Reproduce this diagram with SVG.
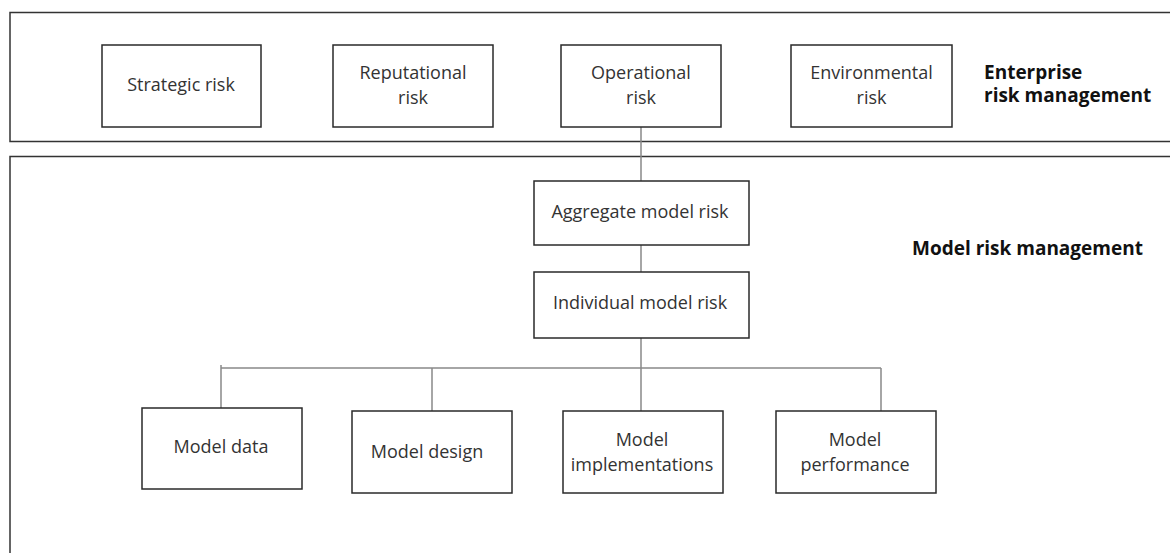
<svg xmlns="http://www.w3.org/2000/svg" width="1170" height="553" viewBox="0 0 1170 553">
<style>
.frame{fill:none;stroke:#333;stroke-width:1.5}
.box{fill:#fff;stroke:#2a2a2a;stroke-width:1.5}
.t{font-family:"Open Sans","Noto Sans",sans-serif;font-size:18px;fill:#333;text-anchor:middle}
.h{font-family:"Open Sans","Noto Sans",sans-serif;font-size:19px;font-weight:bold;fill:#111}
.c{fill:none;stroke:#888;stroke-width:1.5}
</style>
<rect width="1170" height="553" fill="#fff"/>
<g id="enterprise-frame">
<rect class="frame" x="10" y="12.5" width="1175" height="129"/>
<text class="h" x="984" y="79">Enterprise</text>
<text class="h" x="984" y="102">risk management</text>
</g>
<g id="model-frame">
<rect class="frame" x="10" y="156.5" width="1175" height="420"/>
<text class="h" x="912" y="255">Model risk management</text>
</g>
<g id="connectors">
<line class="c" x1="641" y1="127" x2="641" y2="181"/>
<line class="c" x1="641" y1="245" x2="641" y2="272"/>
<line class="c" x1="641" y1="338" x2="641" y2="411"/>
<line class="c" x1="221" y1="368" x2="881" y2="368"/>
<line class="c" x1="221" y1="365" x2="221" y2="408"/>
<line class="c" x1="432" y1="368" x2="432" y2="411"/>
<line class="c" x1="881" y1="368" x2="881" y2="411"/>
</g>
<g id="strategic">
<rect class="box" x="102" y="45" width="159" height="82"/>
<text class="t" x="181" y="91">Strategic risk</text>
</g>
<g id="reputational">
<rect class="box" x="333" y="45" width="160" height="82"/>
<text class="t" x="413" y="79">Reputational</text>
<text class="t" x="413" y="104">risk</text>
</g>
<g id="operational">
<rect class="box" x="561" y="45" width="160" height="82"/>
<text class="t" x="641" y="79">Operational</text>
<text class="t" x="641" y="104">risk</text>
</g>
<g id="environmental">
<rect class="box" x="791" y="45" width="161" height="82"/>
<text class="t" x="871.5" y="79">Environmental</text>
<text class="t" x="871.5" y="104">risk</text>
</g>
<g id="aggregate">
<rect class="box" x="534" y="181" width="215" height="64"/>
<text class="t" x="640" y="218">Aggregate model risk</text>
</g>
<g id="individual">
<rect class="box" x="534" y="272" width="215" height="66"/>
<text class="t" x="640" y="309">Individual model risk</text>
</g>
<g id="model-data">
<rect class="box" x="142" y="408" width="160" height="81"/>
<text class="t" x="221" y="453">Model data</text>
</g>
<g id="model-design">
<rect class="box" x="352" y="411" width="160" height="82"/>
<text class="t" x="427" y="458">Model design</text>
</g>
<g id="model-implementations">
<rect class="box" x="563" y="411" width="160" height="82"/>
<text class="t" x="642" y="446">Model</text>
<text class="t" x="642" y="471">implementations</text>
</g>
<g id="model-performance">
<rect class="box" x="776" y="411" width="160" height="82"/>
<text class="t" x="855" y="446">Model</text>
<text class="t" x="855" y="471">performance</text>
</g>
</svg>
